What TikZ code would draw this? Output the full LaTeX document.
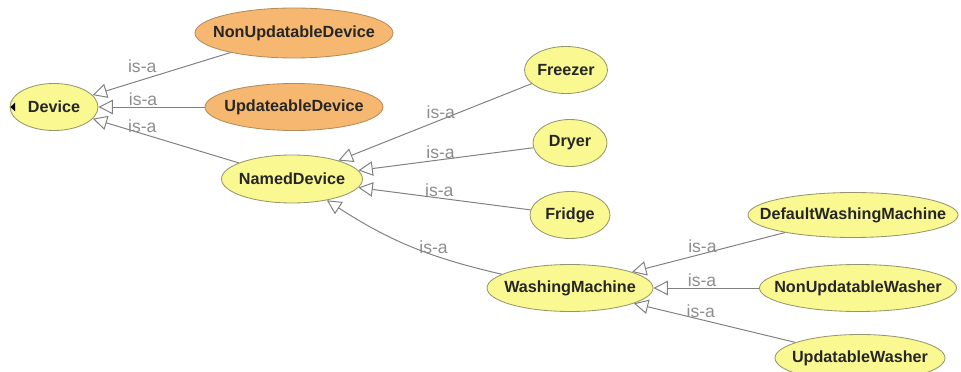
\documentclass[tikz,border=0pt]{standalone}
\usepackage{xcolor}
\usepackage{fontspec}
\usepackage{tikz}
\usetikzlibrary{positioning, arrows.meta, shapes.geometric}

\newfontfamily\ontofont{Liberation Sans}
\newcommand{\cname}[1]{\makebox[0pt]{#1}}
\definecolor{clsfill}{RGB}{250,248,145}
\definecolor{clsline}{RGB}{150,150,110}
\definecolor{defill}{RGB}{246,184,112}
\definecolor{deline}{RGB}{180,140,90}
\definecolor{isagray}{RGB}{128,128,128}

\begin{document}
\begin{tikzpicture}[>={Triangle[open, length=0.36cm, width=0.36cm]},
  node distance=1cm, on grid,
  c/.style={ellipse, draw=clsline, fill=clsfill, line width=0.6pt, inner sep=0pt,
    minimum height=1.175cm, text=black!85, font=\ontofont\bfseries\fontsize{11.5}{13}\selectfont},
  d/.style={c, draw=deline, fill=defill},
  e/.style={->, draw=isagray, line width=0.7pt},
  l/.style={font=\ontofont\fontsize{12.5}{14}\selectfont, text=isagray!90, inner sep=0pt, yshift=0.2cm}]
  \useasboundingbox (-1.35,-6.625) rectangle (22.675,2.675);
  % top level
  \node[c, minimum width=2.2cm] (dev) {\cname{Device}};
  \fill ([xshift=0.02cm]dev.west) -- ++(0.12cm,0.11cm) -- ++(0,-0.22cm) -- cycle;
  \node[d, minimum width=4.95cm, minimum height=1.25cm, above right=1.85cm and 6cm of dev] (nud) {\cname{NonUpdatableDevice}};
  \node[d, minimum width=4.45cm, right=6cm of dev] (upd) {\cname{UpdateableDevice}};
  \node[c, minimum width=3.525cm, minimum height=1.2cm, below right=1.8cm and 5.95cm of dev] (named) {\cname{NamedDevice}};
  % named devices
  \node[c, minimum width=2.075cm, above right=2.725cm and 6.85cm of named] (frz) {\cname{Freezer}};
  \node[c, minimum width=1.85cm, above right=0.9cm and 6.95cm of named] (dry) {\cname{Dryer}};
  \node[c, minimum width=2cm, below right=0.9cm and 6.95cm of named] (fri) {\cname{Fridge}};
  \node[c, minimum width=4.15cm, below right=2.725cm and 6.95cm of named] (wm) {\cname{WashingMachine}};
  % washers
  \node[c, minimum width=5.25cm, minimum height=1.125cm, above right=1.825cm and 7.075cm of wm] (dwm) {\cname{DefaultWashingMachine}};
  \node[c, minimum width=4.925cm, right=7.2cm of wm] (nuw) {\cname{NonUpdatableWasher}};
  \node[c, minimum width=4.25cm, below right=1.75cm and 7.25cm of wm] (uw) {\cname{UpdatableWasher}};
  \draw[e] (nud) -- node[l, pos=.64, yshift=0.15cm] {is-a} (dev);
  \draw[e] (upd) -- node[l, pos=.58] {is-a} (dev);
  \draw[e] (named) -- node[l, pos=.66] {is-a} (dev);
  \draw[e] (frz) -- node[l, pos=.47] {is-a} (named);
  \draw[e] (dry) -- node[l, pos=.53] {is-a} (named);
  \draw[e] (fri) -- node[l, pos=.53] {is-a} (named);
  \draw[e] (wm) to[bend left=10] node[l, pos=.36] {is-a} (named);
  \draw[e] (dwm) -- node[l, pos=.54] {is-a} (wm);
  \draw[e] (nuw) -- node[l, pos=.54] {is-a} (wm);
  \draw[e] (uw) -- node[l, pos=.585] {is-a} (wm);
\end{tikzpicture}
\end{document}
